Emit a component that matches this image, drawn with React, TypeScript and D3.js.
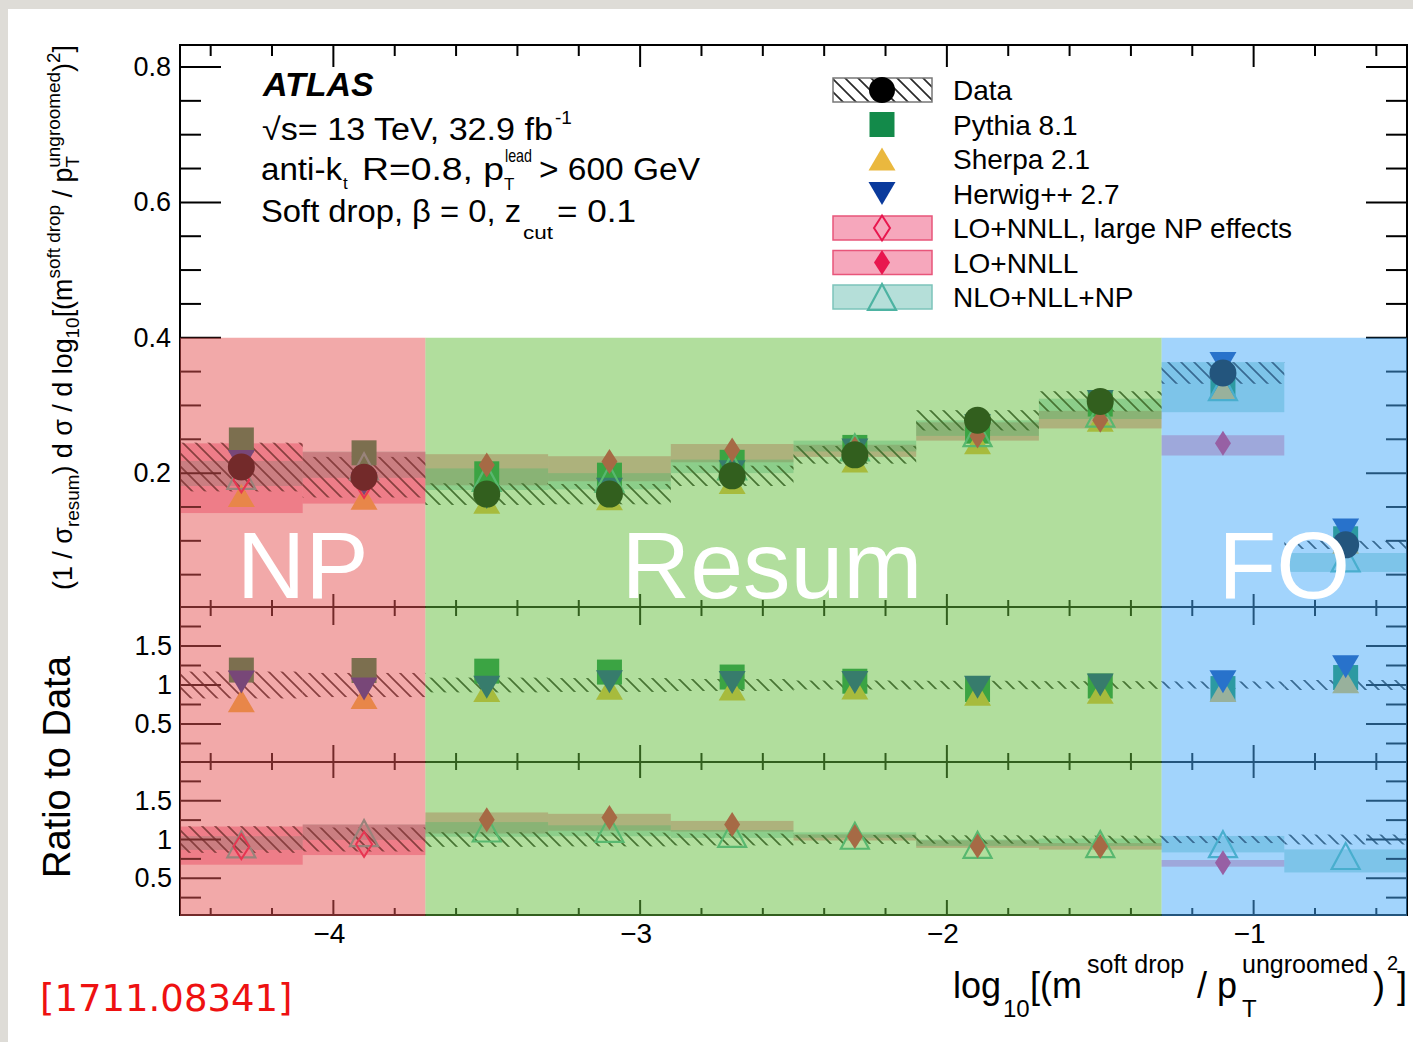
import React from 'react';
import * as d3 from 'd3';

// bins of log10[(m^soft drop / pT^ungroomed)^2], each 0.4 wide
const binCenters = [-4.3, -3.9, -3.5, -3.1, -2.7, -2.3, -1.9, -1.5, -1.1, -0.7];
const binWidth = 0.4;

// unfolded data and its total uncertainty (hatched)
const dataVal = [0.209, 0.194, 0.169, 0.169, 0.196, 0.227, 0.278, 0.306, 0.348, 0.094];
const dataSys = [0.036, 0.030, 0.016, 0.015, 0.015, 0.013, 0.015, 0.015, 0.016, 0.006];

// MC generators
const pythia = [0.249, 0.230, 0.199, 0.197, 0.216, 0.238, 0.262, 0.302, 0.332, 0.103];
const sherpa = [0.167, 0.163, 0.157, 0.162, 0.186, 0.218, 0.245, 0.278, 0.324, 0.098];
const herwig = [0.217, 0.184, 0.164, 0.176, 0.202, 0.234, 0.270, 0.306, 0.362, 0.116];

// LO+NNLL, large NP effects (only in the NP bins)
const loNnllNp = [0.190, 0.182, null, null, null, null, null, null, null, null];
const loNnllNpLow = [0.141, 0.155, null, null, null, null, null, null, null, null];
const loNnllNpHigh = [0.244, 0.231, null, null, null, null, null, null, null, null];

// LO+NNLL
const loNnll = [null, null, 0.212, 0.217, 0.234, 0.236, 0.255, 0.278, 0.244, null];
const loNnllLow = [null, null, 0.182, 0.188, 0.216, 0.224, 0.248, 0.266, 0.226, null];
const loNnllHigh = [null, null, 0.228, 0.225, 0.243, 0.242, 0.275, 0.292, 0.256, null];

// NLO+NLL+NP
const nlo = [0.196, 0.210, 0.193, 0.192, 0.210, 0.238, 0.259, 0.288, 0.327, 0.074];
const nloLow = [0.181, 0.193, 0.175, 0.176, 0.200, 0.232, 0.255, 0.280, 0.290, 0.054];
const nloHigh = [0.218, 0.232, 0.207, 0.200, 0.220, 0.248, 0.278, 0.310, 0.364, 0.082];

// highlighted regions
const regionNames = ['NP', 'Resum', 'FO'];
const regionEdges = [-4.5, -3.7, -1.3, -0.5];
const regionColors = ['#E65454', '#64BE3C', '#46AAFA'];
const regionLabelX = [-4.1, -2.57, -0.9];

const xMajor = [-4, -3, -2, -1];
const mainYMajor = [0.2, 0.4, 0.6, 0.8];
const ratioYMajor = [0.5, 1, 1.5];

const legendLabels = ['Data', 'Pythia 8.1', 'Sherpa 2.1', 'Herwig++ 2.7', 'LO+NNLL, large NP effects', 'LO+NNLL', 'NLO+NLL+NP'];

const pythiaColor = '#138A4A';
const sherpaColor = '#EAB83E';
const herwigColor = '#0A3A9C';
const loColor = '#E8174F';
const loBand = 'rgba(232,23,79,0.38)';
const nloColor = '#4DB3A2';
const nloBand = 'rgba(60,170,155,0.38)';
const FONT = '"Liberation Sans", Arial, Helvetica, sans-serif';

// marker paths
const square = (cx, cy, s) => `M${cx - s / 2},${cy - s / 2}h${s}v${s}h${-s}Z`;
const triUp = (cx, cy, w, h) => `M${cx},${cy - h / 2}L${cx + w / 2},${cy + h / 2}L${cx - w / 2},${cy + h / 2}Z`;
const triDown = (cx, cy, w, h) => `M${cx},${cy + h / 2}L${cx + w / 2},${cy - h / 2}L${cx - w / 2},${cy - h / 2}Z`;
const diamond = (cx, cy, w, h) => `M${cx},${cy - h / 2}L${cx + w / 2},${cy}L${cx},${cy + h / 2}L${cx - w / 2},${cy}Z`;

const X0 = 180, X1 = 1407;
const PT = 45, P1 = 607, P2 = 762, PB = 915;

export default function App() {
  const x = d3.scaleLinear().domain([-4.5, -0.5]).range([X0, X1]);
  const yMain = d3.scaleLinear().domain([0, 0.8]).range([608.5, 67]);
  const yR1 = d3.scaleLinear().domain([0, 2]).range([763, 607]);
  const yR2 = d3.scaleLinear().domain([0, 2]).range([917, 762]);

  const xMinor = d3.range(-4.4, -0.45, 0.2).filter(v => Math.abs(v - Math.round(v)) > 0.05);

  const lo = (c) => x(c - binWidth / 2);
  const hi = (c) => x(c + binWidth / 2);

  // horizontal axis ticks, dir 1 = pointing down, -1 = pointing up
  const hTicks = (y, dir, majLen, minLen, key) => (
    <g key={key}>
      {xMajor.map(v => <line key={'M' + v} x1={x(v)} x2={x(v)} y1={y} y2={y + dir * majLen} />)}
      {xMinor.map(v => <line key={'m' + v} x1={x(v)} x2={x(v)} y1={y} y2={y + dir * minLen} />)}
    </g>
  );

  const vTicks = (yS, majors, minors, key) => (
    <g key={key}>
      {majors.map(v => (
        <g key={'M' + v}>
          <line x1={X0} x2={X0 + 41} y1={yS(v)} y2={yS(v)} />
          <line x1={X1} x2={X1 - 41} y1={yS(v)} y2={yS(v)} />
        </g>
      ))}
      {minors.map(v => (
        <g key={'m' + v}>
          <line x1={X0} x2={X0 + 21} y1={yS(v)} y2={yS(v)} />
          <line x1={X1} x2={X1 - 21} y1={yS(v)} y2={yS(v)} />
        </g>
      ))}
    </g>
  );

  const mainYMinor = d3.range(0.05, 0.83, 0.05).filter(v => mainYMajor.every(m => Math.abs(m - v) > 0.01));
  const ratioYMinor = [0.25, 0.75, 1.25, 1.75];

  // theory band rectangles
  const bands = (yS, lowArr, highArr, fill, norm, key) => (
    <g key={key}>
      {binCenters.map((c, i) => lowArr[i] == null ? null : (
        <rect key={i} x={lo(c)} width={hi(c) - lo(c)}
          y={yS(highArr[i] / norm(i))} height={yS(lowArr[i] / norm(i)) - yS(highArr[i] / norm(i))}
          fill={fill} />
      ))}
    </g>
  );

  const hatchBand = (yS, centre, err, key) => (
    <g key={key}>
      {binCenters.map((c, i) => (
        <rect key={i} x={lo(c)} width={hi(c) - lo(c)}
          y={yS(centre(i) + err(i))} height={yS(centre(i) - err(i)) - yS(centre(i) + err(i))}
          fill="url(#hatch)" />
      ))}
    </g>
  );

  const mcMarkers = (yS, norm) => (
    <g>
      {binCenters.map((c, i) => <path key={'p' + i} d={square(x(c), yS(pythia[i] / norm(i)), 25)} fill={pythiaColor} />)}
      {binCenters.map((c, i) => <path key={'s' + i} d={triUp(x(c), yS(sherpa[i] / norm(i)), 27, 23)} fill={sherpaColor} />)}
      {binCenters.map((c, i) => <path key={'h' + i} d={triDown(x(c), yS(herwig[i] / norm(i)), 27, 23)} fill={herwigColor} />)}
    </g>
  );

  const theoryMarkers = (yS, norm) => (
    <g>
      {binCenters.map((c, i) => <path key={'n' + i} d={triUp(x(c), yS(nlo[i] / norm(i)), 28, 26)} fill="none" stroke={nloColor} strokeWidth={2.2} />)}
      {binCenters.map((c, i) => loNnllNp[i] == null ? null :
        <path key={'d' + i} d={diamond(x(c), yS(loNnllNp[i] / norm(i)), 16, 25)} fill="none" stroke={loColor} strokeWidth={2} />)}
      {binCenters.map((c, i) => loNnll[i] == null ? null :
        <path key={'f' + i} d={diamond(x(c), yS(loNnll[i] / norm(i)), 16, 25)} fill={loColor} />)}
    </g>
  );

  const one = () => 1;
  const byData = (i) => dataVal[i];

  const legendY = (k) => 90 + k * 34.5;

  return (
    <svg width={1413} height={1042} style={{ position: 'absolute', left: 0, top: 0 }} fontFamily={FONT}>
      <defs>
        <pattern id="hatch" patternUnits="userSpaceOnUse" width={13} height={13}>
          <path d="M-1,-1L14,14M-1,12L1,14M12,-1L14,1" stroke="#2a2a2a" strokeWidth={1.7} />
        </pattern>
        <clipPath id="clipMain"><rect x={X0} y={PT} width={X1 - X0} height={P1 - PT} /></clipPath>
        <clipPath id="clipR1"><rect x={X0} y={P1} width={X1 - X0} height={P2 - P1} /></clipPath>
        <clipPath id="clipR2"><rect x={X0} y={P2} width={X1 - X0} height={PB - P2} /></clipPath>
      </defs>

      <rect x={0} y={0} width={1413} height={1042} fill="#dedcd7" />
      <rect x={8} y={9} width={1405} height={1033} fill="#ffffff" />

      {/* main panel */}
      <g clipPath="url(#clipMain)">
        {bands(yMain, loNnllNpLow, loNnllNpHigh, loBand, one, 'b1')}
        {bands(yMain, loNnllLow, loNnllHigh, loBand, one, 'b2')}
        {bands(yMain, nloLow, nloHigh, nloBand, one, 'b3')}
        {hatchBand(yMain, (i) => dataVal[i], (i) => dataSys[i], 'h')}
        {mcMarkers(yMain, one)}
        {theoryMarkers(yMain, one)}
        {binCenters.map((c, i) => <circle key={i} cx={x(c)} cy={yMain(dataVal[i])} r={13.5} fill="#000" />)}
      </g>

      {/* ratio to data: MC */}
      <g clipPath="url(#clipR1)">
        {hatchBand(yR1, () => 1, (i) => dataSys[i] / dataVal[i], 'h1')}
        {mcMarkers(yR1, byData)}
      </g>

      {/* ratio to data: theory */}
      <g clipPath="url(#clipR2)">
        {bands(yR2, loNnllNpLow, loNnllNpHigh, loBand, byData, 'rb1')}
        {bands(yR2, loNnllLow, loNnllHigh, loBand, byData, 'rb2')}
        {bands(yR2, nloLow, nloHigh, nloBand, byData, 'rb3')}
        {hatchBand(yR2, () => 1, (i) => dataSys[i] / dataVal[i], 'h2')}
        {theoryMarkers(yR2, byData)}
      </g>

      {/* frames and ticks */}
      <g stroke="#000" strokeWidth={2} fill="none">
        <rect x={X0} y={PT} width={X1 - X0} height={PB - PT} />
        <line x1={X0} x2={X1} y1={P1} y2={P1} />
        <line x1={X0} x2={X1} y1={P2} y2={P2} />
        {hTicks(PT, 1, 22, 11, 't0')}
        {hTicks(P1, -1, 13, 7, 't1')}
        {hTicks(P1, 1, 18, 9, 't2')}
        {hTicks(P2, -1, 17, 9, 't3')}
        {hTicks(P2, 1, 16, 8, 't4')}
        {hTicks(PB, -1, 15, 7, 't5')}
        {vTicks(yMain, mainYMajor, mainYMinor, 'v0')}
        {vTicks(yR1, ratioYMajor, ratioYMinor, 'v1')}
        {vTicks(yR2, ratioYMajor, ratioYMinor, 'v2')}
      </g>

      {/* tick labels */}
      <g fontSize={27} textAnchor="end" fill="#000">
        {mainYMajor.map(v => <text key={v} x={171} y={yMain(v) + 9}>{v.toFixed(1)}</text>)}
        {ratioYMajor.map(v => <text key={'a' + v} x={172} y={yR1(v) + 9}>{String(v)}</text>)}
        {ratioYMajor.map(v => <text key={'b' + v} x={172} y={yR2(v) + 9}>{String(v)}</text>)}
      </g>
      <g fontSize={28} textAnchor="middle" fill="#000">
        {xMajor.map(v => <text key={v} x={x(v) - 4} y={943}>{'\u2212' + Math.abs(v)}</text>)}
      </g>

      {/* region highlights */}
      {regionNames.map((n, k) => (
        <rect key={n} x={x(regionEdges[k])} y={yMain(0.4)} width={x(regionEdges[k + 1]) - x(regionEdges[k])}
          height={PB + 1 - yMain(0.4)} fill={regionColors[k]} fillOpacity={0.5} />
      ))}
      {regionNames.map((n, k) => (
        <text key={'t' + n} x={x(regionLabelX[k])} y={598} fontSize={95} fill="#fff" textAnchor="middle">{n}</text>
      ))}

      {/* ATLAS label */}
      <g fill="#000">
        <text x={263} y={96} fontSize={34} fontWeight="bold" fontStyle="italic">ATLAS</text>
        <text x={262} y={140} fontSize={31} textLength={291} lengthAdjust="spacingAndGlyphs">{'\u221As= 13 TeV, 32.9 fb'}</text>
        <text x={555} y={124} fontSize={19}>-1</text>
        <text x={261} y={180} fontSize={31} textLength={81} lengthAdjust="spacingAndGlyphs">anti-k</text>
        <text x={343} y={189} fontSize={17}>t</text>
        <text x={362} y={180} fontSize={31} textLength={142} lengthAdjust="spacingAndGlyphs">R=0.8, p</text>
        <text x={505} y={162} fontSize={19} textLength={27} lengthAdjust="spacingAndGlyphs">lead</text>
        <text x={504} y={190} fontSize={17}>T</text>
        <text x={539} y={180} fontSize={31} textLength={161} lengthAdjust="spacingAndGlyphs">{'> 600 GeV'}</text>
        <text x={261} y={222} fontSize={31} textLength={260} lengthAdjust="spacingAndGlyphs">{'Soft drop, \u03B2 = 0, z'}</text>
        <text x={523} y={239} fontSize={19} textLength={30} lengthAdjust="spacingAndGlyphs">cut</text>
        <text x={557} y={222} fontSize={31} textLength={79} lengthAdjust="spacingAndGlyphs">= 0.1</text>
      </g>

      {/* legend */}
      <g>
        <rect x={833} y={legendY(0) - 12} width={99} height={24} fill="url(#hatch)" stroke="#777" strokeWidth={1.5} />
        <circle cx={882} cy={legendY(0)} r={13} fill="#000" />
        <path d={square(882, legendY(1), 25)} fill={pythiaColor} />
        <path d={triUp(882, legendY(2), 27, 23)} fill={sherpaColor} />
        <path d={triDown(882, legendY(3), 27, 23)} fill={herwigColor} />
        {[4, 5].map(k => (
          <rect key={k} x={833} y={legendY(k) - 12} width={99} height={24} fill={loBand} stroke="#E8557A" strokeWidth={1.5} />
        ))}
        <path d={diamond(882, legendY(4), 16, 25)} fill="none" stroke={loColor} strokeWidth={2} />
        <path d={diamond(882, legendY(5), 16, 25)} fill={loColor} />
        <rect x={833} y={legendY(6) - 12} width={99} height={24} fill={nloBand} stroke="#7CC4BA" strokeWidth={1.5} />
        <path d={triUp(882, legendY(6), 28, 26)} fill="none" stroke={nloColor} strokeWidth={2.2} />
        {legendLabels.map((l, k) => (
          <text key={l} x={953} y={legendY(k) + 10} fontSize={28} fill="#000">{l}</text>
        ))}
      </g>

      {/* axis titles */}
      <text transform="translate(72,590) rotate(-90)" fontSize={27} fill="#000" textLength={545} lengthAdjust="spacingAndGlyphs">
        (1 / {'\u03C3'}<tspan dy={7} fontSize={19}>resum</tspan>
        <tspan dy={-7}>) d {'\u03C3'} / d log</tspan>
        <tspan dy={7} fontSize={19}>10</tspan>
        <tspan dy={-7}>[(m</tspan>
        <tspan dy={-12} fontSize={19}>soft drop</tspan>
        <tspan dy={12}> / p</tspan>
        <tspan dy={7} fontSize={19}>T</tspan>
        <tspan dy={-19} dx={-11} fontSize={19}>ungroomed</tspan>
        <tspan dy={12}>)</tspan>
        <tspan dy={-12} fontSize={19}>2</tspan>
        <tspan dy={12}>]</tspan>
      </text>
      <text transform="translate(70,878) rotate(-90)" fontSize={38} fill="#000">Ratio to Data</text>

      <g fill="#000">
        <text x={953} y={998} fontSize={36}>log</text>
        <text x={1003} y={1017} fontSize={24}>10</text>
        <text x={1030} y={998} fontSize={36}>[(m</text>
        <text x={1087} y={973} fontSize={25}>soft drop</text>
        <text x={1197} y={998} fontSize={36}>/ p</text>
        <text x={1242} y={1017} fontSize={24}>T</text>
        <text x={1242} y={973} fontSize={25}>ungroomed</text>
        <text x={1373} y={998} fontSize={36}>)</text>
        <text x={1387} y={970} fontSize={20}>2</text>
        <text x={1397} y={998} fontSize={36}>]</text>
      </g>

      <text x={40} y={1011} fontSize={37} fill="#EE1111" fontFamily='"DejaVu Sans", sans-serif'>[1711.08341]</text>
    </svg>
  );
}
